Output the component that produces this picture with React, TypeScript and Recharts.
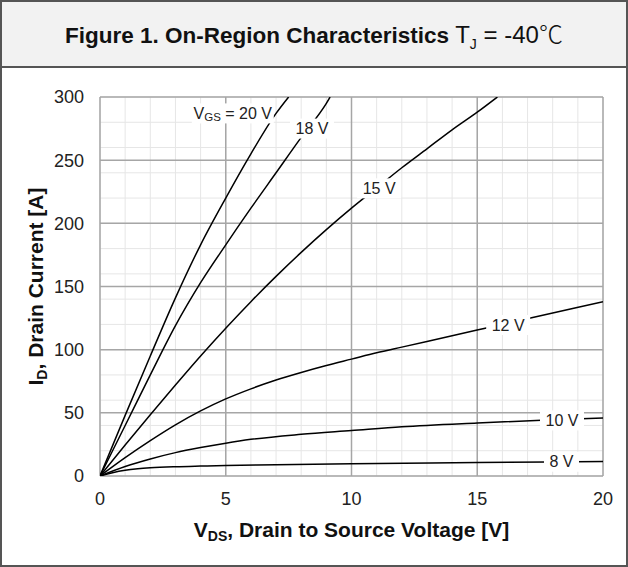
import React from 'react';
import { LineChart, Line, XAxis, YAxis, CartesianGrid, ReferenceDot, Label } from 'recharts';

// VDS [V] / ID [A], one pair of arrays per VGS curve
const vds8 = [0, 0.5, 1, 1.5, 2, 3, 4, 5, 7, 10, 15, 20];
const id8 = [0, 2.6, 4.5, 5.7, 6.5, 7.4, 7.9, 8.3, 8.9, 9.7, 10.6, 11.4];

const vds10 = [0, 1, 2, 3, 4, 5, 6, 8, 10, 12, 15, 18, 20];
const id10 = [0, 7.5, 13.5, 18.5, 22.5, 26, 29, 33, 36, 39, 42, 44.5, 46];

const vds12 = [0, 1, 2, 3, 4, 5, 6, 7, 8, 9, 10, 11, 12, 14, 16, 18, 20];
const id12 = [0, 14.5, 28, 40.5, 51.5, 61, 69, 76, 82, 87.5, 92.5, 97.5, 102, 111, 120, 129, 138];

const vds15 = [0, 1, 2, 3, 4, 5, 6, 7, 8, 9, 10, 11, 12, 13, 14, 15, 15.8];
const id15 = [0, 24.5, 48.5, 72, 95, 117, 138, 158, 177, 195, 212, 228, 244, 259, 274, 288, 300];

const vds18 = [0, 1, 2, 3, 4, 5, 6, 7, 8, 9, 9.15];
const id18 = [0, 40, 80, 119, 153, 183, 212, 240, 268, 295, 300];

const vds20 = [0, 1, 2, 3, 4, 5, 6, 7, 7.5];
const id20 = [0, 48, 95, 141, 183, 220, 255, 287, 300];

// curve tags: text and where they sit (data coordinates)
const tagText = ['8 V', '10 V', '12 V', '15 V', '18 V', '= 20 V'];
const tagV = [18.35, 18.37, 16.23, 11.1, 8.43, 5.28];
const tagI = [11.3, 44, 119.5, 227.7, 275, 287];

const xTicks = [0, 5, 10, 15, 20];
const yTicks = [0, 50, 100, 150, 200, 250, 300];
const xMinor = [0, 1, 2, 3, 4, 5, 6, 7, 8, 9, 10, 11, 12, 13, 14, 15, 16, 17, 18, 19, 20];
const yMinor = [0, 20, 40, 60, 80, 100, 120, 140, 160, 180, 200, 220, 240, 260, 280, 300];

const FONT = '"Liberation Sans", Arial, sans-serif';

const toPoints = (v: number[], i: number[]) => v.map((x, k) => ({ v: x, id: i[k] }));

const series = [
  toPoints(vds8, id8),
  toPoints(vds10, id10),
  toPoints(vds12, id12),
  toPoints(vds15, id15),
  toPoints(vds18, id18),
  toPoints(vds20, id20),
];

const CurveTag = ({ cx, cy, text }: any) => {
  const isGs = text.startsWith('=');
  const w = isGs ? 82 : text.length * 9 + 8;
  return (
    <g>
      <rect x={cx - w / 2} y={cy - 10} width={w} height={20} fill="#fff" />
      {isGs ? (
        <text x={cx} y={cy} textAnchor="middle" dominantBaseline="central" fontSize={16} fill="#222" fontFamily={FONT}>
          V<tspan fontSize={11.5} dy={4}>GS</tspan>
          <tspan dy={-4}> {text}</tspan>
        </text>
      ) : (
        <text x={cx} y={cy} textAnchor="middle" dominantBaseline="central" fontSize={16} fill="#222" fontFamily={FONT}>
          {text}
        </text>
      )}
    </g>
  );
};

const XTitle = ({ viewBox }: any) => {
  const cx = viewBox.x + viewBox.width / 2;
  return (
    <text x={cx} y={537} textAnchor="middle" fontSize={21} fontWeight="bold" fill="#111" fontFamily={FONT}>
      V<tspan fontSize={14} dy={4}>DS</tspan>
      <tspan dy={-4}>, Drain to Source Voltage [V]</tspan>
    </text>
  );
};

const YTitle = ({ viewBox }: any) => {
  const cy = viewBox.y + viewBox.height / 2;
  return (
    <text
      x={43}
      y={cy}
      transform={`rotate(-90 43 ${cy})`}
      textAnchor="middle"
      fontSize={21}
      fontWeight="bold"
      fill="#111"
      fontFamily={FONT}
    >
      I<tspan fontSize={14} dy={4}>D</tspan>
      <tspan dy={-4}>, Drain Current [A]</tspan>
    </text>
  );
};

export default function App() {
  return (
    <div style={{ position: 'absolute', left: 0, top: 0, width: 628, height: 567, background: '#fff' }}>
      <div
        style={{
          position: 'absolute',
          left: 0,
          top: 0,
          width: 628,
          height: 567,
          border: '2px solid #555',
          boxSizing: 'border-box',
        }}
      />
      <div
        style={{
          position: 'absolute',
          left: 2,
          top: 2,
          width: 624,
          height: 64,
          background: '#f2f2f2',
          borderBottom: '2px solid #555',
          display: 'flex',
          alignItems: 'center',
          justifyContent: 'center',
          fontFamily: FONT,
          fontSize: 22.5,
          color: '#111',
        }}
      >
        <span style={{ marginTop: -2 }}>
          <b>Figure 1. On-Region Characteristics</b>
          <span style={{ fontSize: 24 }}>
            {' '}T<sub style={{ fontSize: 14 }}>J</sub> = -40
          </span>
          <span style={{ fontFamily: '"Noto Sans CJK JP", sans-serif', fontWeight: 300, fontSize: 24 }}>℃</span>
        </span>
      </div>
      <div style={{ position: 'absolute', left: 0, top: 0 }}>
        <LineChart width={628} height={567} margin={{ top: 97, right: 25, bottom: 0, left: 0 }}>
          <CartesianGrid
            horizontalValues={yMinor}
            verticalValues={xMinor}
            stroke="#e6e6e6"
            strokeWidth={1}
          />
          <CartesianGrid
            horizontalValues={yTicks}
            verticalValues={xTicks}
            stroke="#a6a6a6"
            strokeWidth={1.5}
          />
          <XAxis
            dataKey="v"
            type="number"
            domain={[0, 20]}
            ticks={xTicks}
            allowDataOverflow
            axisLine={false}
            tickLine={false}
            tickSize={0}
            tickMargin={16}
            height={91}
            tick={{ fontSize: 18, fill: '#222', fontFamily: FONT }}
          >
            <Label content={XTitle} />
          </XAxis>
          <YAxis
            dataKey="id"
            type="number"
            domain={[0, 300]}
            ticks={yTicks}
            allowDataOverflow
            axisLine={false}
            tickLine={false}
            tickSize={0}
            tickMargin={16}
            width={100}
            tick={{ fontSize: 18, fill: '#222', fontFamily: FONT }}
          >
            <Label content={YTitle} />
          </YAxis>
          {series.map((pts, k) => (
            <Line
              key={k}
              data={pts}
              dataKey="id"
              type="monotone"
              stroke="#000"
              strokeWidth={1.5}
              dot={false}
              isAnimationActive={false}
            />
          ))}
          {tagText.map((t, k) => (
            <ReferenceDot
              key={t}
              x={tagV[k]}
              y={tagI[k]}
              r={0}
              shape={(p: any) => <CurveTag cx={p.cx} cy={p.cy} text={t} />}
            />
          ))}
        </LineChart>
      </div>
    </div>
  );
}
